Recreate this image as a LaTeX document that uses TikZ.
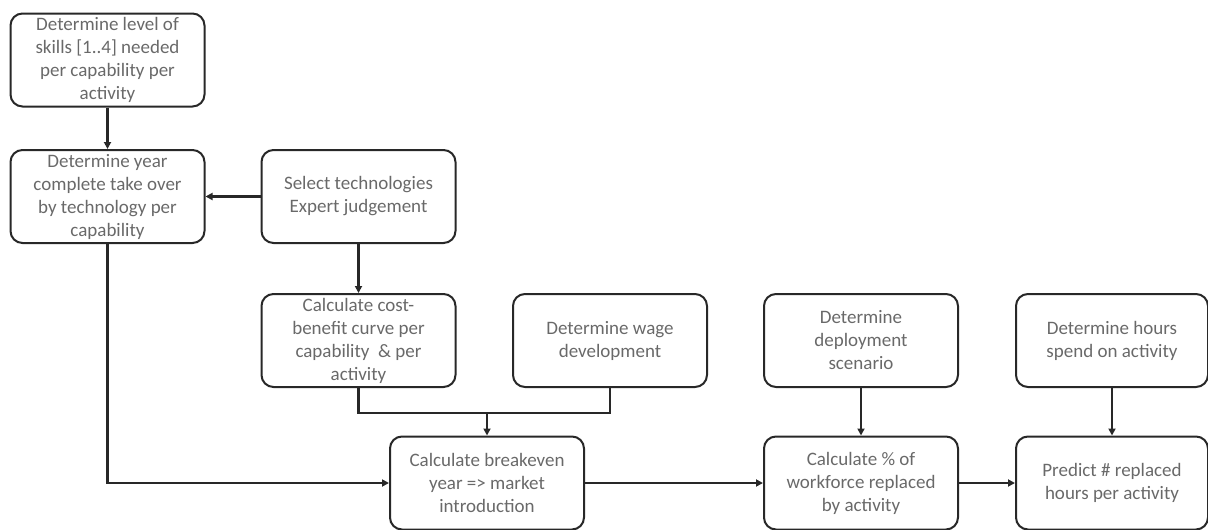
\documentclass[tikz,border=0pt]{standalone}
\usepackage{fontspec}
\setmainfont{Carlito}
\usetikzlibrary{arrows.meta}
\definecolor{txtgray}{RGB}{105,105,105}
\definecolor{linegray}{RGB}{40,40,40}
\tikzset{
  box/.style={draw=linegray, line width=2pt, rounded corners=12pt, minimum width=194pt, minimum height=93pt, inner sep=0pt, align=center, text=txtgray, font=\fontsize{19}{23}\selectfont},
  conn/.style={draw=linegray, line width=2.2pt, -{Triangle[length=7pt,width=7pt]}},
  plain/.style={draw=linegray, line width=2.2pt}
}
\begin{document}
\begin{tikzpicture}[x=1pt,y=-1pt]
\useasboundingbox (0,0) rectangle (1208,530);
\node[box] (b1) at (107.5,60) {Determine level of\\skills [1..4] needed\\per capability per\\activity};
\node[box] (b2) at (107.5,196.5) {Determine year\\complete take over\\by technology per\\capability};
\node[box] (b3) at (358.5,196.5) {Select technologies\\Expert judgement};
\node[box] (b4) at (358.5,340.5) {Calculate cost-\\benefit curve per\\capability \ \& per\\activity};
\node[box] (b5) at (610,340.5) {Determine wage\\development};
\node[box] (b6) at (487,483) {Calculate breakeven\\year => market\\introduction};
\node[box] (b7) at (861,340.5) {Determine\\deployment\\scenario};
\node[box] (b8) at (861,483) {Calculate \% of\\workforce replaced\\by activity};
\node[box, minimum width=192pt] (b9) at (1112,340.5) {Determine hours\\spend on activity};
\node[box, minimum width=192pt] (b10) at (1112,483) {Predict \# replaced\\hours per activity};
\coordinate (j) at (487,413);
\draw[conn] (b1) -- (b2);
\draw[conn] (b3) -- (b2);
\draw[conn] (b3) -- (b4);
\draw[conn] (b2.south) |- (b6.west);
\draw[plain] (b4.south) |- (j) -| (b5.south);
\draw[conn] (j) -- (b6.north);
\draw[conn] (b6) -- (b8);
\draw[conn] (b7) -- (b8);
\draw[conn] (b8) -- (b10);
\draw[conn] (b9) -- (b10);
\end{tikzpicture}
\end{document}
